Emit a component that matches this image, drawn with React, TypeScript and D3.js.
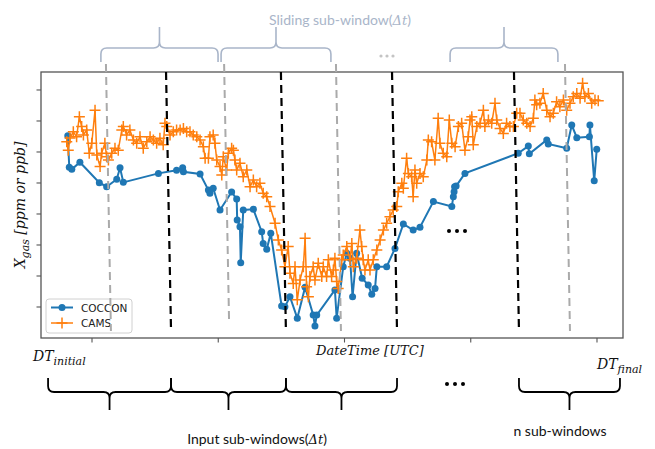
import React from "react";
import * as d3 from "d3";

// Axis ticks (time in hours, gas in arbitrary units); no tick labels are drawn
const xTicks = [0, 5, 10, 15, 20];
const yTicks = [0, 1, 2, 3, 4, 5, 6, 7];

// COCCON retrievals
const cocconTime = [
  -0.96, -0.9, -0.8, -0.48, 0.29, 0.58, 0.98, 1.11, 1.24, 2.63, 3.35, 3.59, 3.62, 4.28, 4.61, 4.67,
  4.8, 5.07, 5.53, 5.73, 5.75, 5.86, 5.89, 5.99, 6.39, 6.72, 6.78, 6.92, 7.08, 7.51, 7.64, 7.84,
  8.13, 8.44, 8.76, 8.83, 8.9, 9.62, 9.69, 9.95, 10.09, 10.22, 10.32, 10.48, 10.7, 10.94, 11.08,
  11.21, 11.28, 11.67, 12.0, 12.33, 12.72, 12.99, 13.52, 14.25, 14.31, 14.34, 14.36, 14.42, 14.77,
  16.88, 17.28, 17.32, 18.01, 18.07, 18.8, 19.0, 19.2, 19.7, 19.72, 19.89, 19.99,
];
const cocconValue = [
  5.52, 4.51, 4.44, 4.67, 4.01, 3.88, 4.12, 4.49, 4.02, 4.31, 4.41, 4.49, 4.36, 4.29, 3.77, 3.67,
  3.83, 3.13, 3.71, 3.48, 2.81, 2.59, 1.43, 3.13, 3.15, 2.43, 2.05, 1.86, 2.38, 0.03, 0.01, 0.33,
  -0.36, 0.64, -0.26, -0.61, -0.26, 0.55, -0.36, 1.3, 1.73, 1.57, 0.33, 1.73, 0.93, 0.71, 0.41,
  0.6, 1.3, 1.3, 1.89, 2.68, 2.48, 2.57, 3.4, 3.24, 3.56, 3.72, 3.88, 3.9, 4.31,
  4.96, 5.19, 4.94, 5.39, 5.26, 5.12, 5.87, 5.46, 5.49, 5.87, 4.07, 5.09,
];

// CAMS model values
const camsTime = [
  -1.0, -0.94, -0.87, -0.74, -0.61, -0.5, -0.41, -0.34, -0.21, -0.11, -0.01, 0.12, 0.19, 0.32, 0.38,
  0.51, 0.58, 0.65, 0.78, 0.91, 1.04, 1.18, 1.24, 1.37, 1.5, 1.64, 1.77, 1.9, 2.03, 2.17, 2.3, 2.43,
  2.56, 2.69, 2.82, 2.89, 2.96, 3.09, 3.22, 3.35, 3.49, 3.62, 3.75, 3.88, 4.01, 4.15, 4.28, 4.41,
  4.48, 4.61, 4.67, 4.8, 4.87, 4.94, 5.07, 5.14, 5.2, 5.33, 5.4, 5.53, 5.6, 5.66, 5.73, 5.86, 5.99,
  6.13, 6.26, 6.39, 6.52, 6.65, 6.78, 6.92, 7.05, 7.25, 7.38, 7.51, 7.64, 7.77, 7.84, 7.97, 8.04,
  8.13, 8.24, 8.37, 8.44, 8.5, 8.57, 8.63, 8.76, 8.83, 8.96, 9.1, 9.16, 9.29, 9.36, 9.49, 9.56,
  9.62, 9.69, 9.75, 9.89, 9.95, 10.09, 10.22, 10.29, 10.35, 10.48, 10.61, 10.68, 10.74, 10.81,
  10.94, 11.01, 11.14, 11.28, 11.41, 11.54, 11.67, 11.8, 11.93, 12.07, 12.13, 12.27, 12.33, 12.46,
  12.53, 12.66, 12.72, 12.79, 12.86, 12.99, 13.12, 13.26, 13.32, 13.45, 13.58, 13.71, 13.78, 13.91,
  14.05, 14.15, 14.25, 14.38, 14.51, 14.64, 14.77, 14.9, 14.97, 15.04, 15.1, 15.24, 15.37, 15.5,
  15.56, 15.7, 15.83, 15.96, 16.03, 16.16, 16.29, 16.42, 16.55, 16.69, 16.82, 16.95, 17.08, 17.22,
  17.35, 17.48, 17.54, 17.61, 17.74, 17.87, 18.01, 18.14, 18.27, 18.4, 18.53, 18.67, 18.8, 18.93,
  19.06, 19.2, 19.33, 19.43, 19.52, 19.66, 19.79, 19.92, 20.05,
];
const camsValue = [
  5.33, 5.06, 5.45, 5.65, 5.49, 6.14, 5.82, 5.55, 5.71, 4.96, 5.28, 6.35, 4.9, 4.53, 4.96,
  5.28, 4.85, 4.74, 4.96, 5.12, 5.06, 5.71, 5.82, 5.55, 5.71, 5.39, 5.28, 5.49, 5.12, 5.33, 5.49, 5.39,
  5.28, 5.44, 5.23, 5.93, 5.82, 5.55, 5.65, 5.71, 5.71, 5.76, 5.65, 5.65, 5.55, 5.49, 5.39, 5.17,
  4.8, 4.8, 5.49, 5.55, 5.28, 4.74, 4.53, 4.26, 4.85, 4.42, 4.96, 5.12, 5.06, 4.74, 4.42, 4.64, 4.2,
  4.42, 3.88, 4.1, 3.88, 3.99, 3.67, 3.56, 3.24, 2.7, 2.16, 1.84, 1.3, 1.95, 1.09, 0.76, 1.3,
  0.23, 0.87, 1.3, 2.22, 0.65, 0.33, 0.98, 1.3, 0.87, 1.41, 0.98, 1.3, 0.98, 1.52, 0.98, 1.19,
  1.57, 0.82, 0.6, 1.52, 1.68, 1.95, 1.52, 2.05, 1.3, 1.57, 2.48, 1.95, 1.52, 1.19,
  1.52, 1.19, 1.52, 1.84, 2.16, 2.48, 2.7, 2.91, 3.13, 3.24, 3.72, 3.99, 3.83, 4.8,
  4.31, 4.2, 3.56, 4.42, 3.99, 4.31, 4.2, 4.74, 5.39, 5.33, 4.74, 6.09, 5.28, 4.96,
  4.85, 6.03, 5.28, 5.17, 5.82, 5.93, 5.06, 5.49, 6.03, 6.14, 5.23, 5.82, 5.93, 6.35,
  5.82, 6.03, 5.93, 6.57, 6.03, 5.76, 5.6, 5.93, 5.82, 5.82, 6.25, 6.25, 6.03, 5.93,
  5.82, 6.09, 6.68, 6.52, 6.57, 6.89, 6.35, 6.14, 6.25, 6.62, 6.46, 6.68, 6.35, 6.57,
  6.78, 6.89, 6.73, 7.22, 6.78, 6.89, 6.57, 6.68, 6.65,
];

// Window boundaries (time at the bottom of the axes)
const inputDividers = [3.13, 7.68, 12.08, 16.91];
const slidingDividers = [0.75, 5.43, 9.86, 18.93];
const inputWindows: [number, number][] = [
  [-1.74, 3.13],
  [3.13, 7.68],
  [7.68, 12.08],
  [16.91, 20.91],
];
const slidingWindows: [number, number][] = [
  [0.55, 5.19],
  [5.31, 9.66],
  [14.38, 18.65],
];

const W = 655;
const H = 449;
const M = { left: 41, right: 623, top: 72, bottom: 338 };
const BLUE = "#1f77b4";
const ORANGE = "#ff7f0e";
const AXIS = "#555";
const BRACE_BLUE = "#a9b5c9";

const x = d3.scaleLinear().domain([-2.02, 21.03]).range([M.left, M.right]);
const y = d3.scaleLinear().domain([-1, 7.58]).range([M.bottom, M.top]);

// Curly brace between x1 and x2; ends at yEnd, bar at yBar, tip at yTip
function bracePath(x1: number, x2: number, yEnd: number, yBar: number, yTip: number) {
  const r = 6;
  const s = yTip < yBar ? -1 : 1; // tip direction
  const xm = (x1 + x2) / 2;
  const p = d3.path();
  p.moveTo(x1, yEnd);
  p.lineTo(x1, yBar - s * r);
  p.quadraticCurveTo(x1, yBar, x1 + r, yBar);
  p.lineTo(xm - r, yBar);
  p.quadraticCurveTo(xm, yBar, xm, yBar + s * r);
  p.lineTo(xm, yTip);
  p.moveTo(xm, yBar + s * r);
  p.quadraticCurveTo(xm, yBar, xm + r, yBar);
  p.lineTo(x2 - r, yBar);
  p.quadraticCurveTo(x2, yBar, x2, yBar - s * r);
  p.lineTo(x2, yEnd);
  return p.toString();
}

export default function App() {
  const coccon = cocconTime.map((t, i) => [t, cocconValue[i]] as [number, number]);
  const cams = camsTime.map((t, i) => [t, camsValue[i]] as [number, number]);
  const line = d3
    .line<[number, number]>()
    .x((d) => x(d[0]))
    .y((d) => y(d[1]));
  const lean = 5;
  const sans = "Lato, 'Open Sans', sans-serif";
  const math = "'DejaVu Serif', serif";

  return (
    <svg
      width={W}
      height={H}
      style={{ position: "absolute", left: 0, top: 0, background: "#fff" }}
      fontFamily="'DejaVu Sans', sans-serif"
    >
      <rect width={W} height={H} fill="#fff" />

      {/* series */}
      <path d={line(coccon) ?? ""} fill="none" stroke={BLUE} strokeWidth={2} />
      {coccon.map((d, i) => (
        <circle key={`c${i}`} cx={x(d[0])} cy={y(d[1])} r={3.5} fill={BLUE} />
      ))}
      <path d={line(cams) ?? ""} fill="none" stroke={ORANGE} strokeWidth={1.5} />
      {cams.map((d, i) => (
        <path
          key={`m${i}`}
          transform={`translate(${x(d[0])},${y(d[1])})`}
          d="M-5.5,0H5.5M0,-5.5V5.5"
          stroke={ORANGE}
          strokeWidth={1.5}
        />
      ))}

      {/* frame and ticks */}
      <rect
        x={M.left}
        y={M.top}
        width={M.right - M.left}
        height={M.bottom - M.top}
        fill="none"
        stroke={AXIS}
        strokeWidth={1.3}
      />
      {xTicks.map((t) => (
        <line key={`xt${t}`} x1={x(t)} x2={x(t)} y1={M.bottom} y2={M.bottom + 4.5} stroke={AXIS} strokeWidth={1.1} />
      ))}
      {yTicks.map((t) => (
        <line key={`yt${t}`} x1={M.left - 4.5} x2={M.left} y1={y(t)} y2={y(t)} stroke={AXIS} strokeWidth={1.1} />
      ))}

      {/* legend */}
      <g>
        <rect x={46} y={299} width={86} height={34} rx={3} fill="#fff" fillOpacity={0.85} stroke="#d0d0d0" />
        <line x1={51} x2={73} y1={307.5} y2={307.5} stroke={BLUE} strokeWidth={2} />
        <circle cx={62} cy={307.5} r={3.5} fill={BLUE} />
        <text x={81} y={311.5} fontSize={10.5} fill="#222">COCCON</text>
        <line x1={51} x2={73} y1={323} y2={323} stroke={ORANGE} strokeWidth={1.5} />
        <path d="M62,317.5V328.5M56.5,323H67.5" stroke={ORANGE} strokeWidth={1.5} />
        <text x={81} y={327} fontSize={10.5} fill="#222">CAMS</text>
      </g>

      {/* window dividers */}
      {slidingDividers.map((t, i) => (
        <line
          key={`g${i}`}
          x1={x(t) - lean}
          y1={64}
          x2={x(t)}
          y2={i === 1 ? 323 : 331}
          stroke="#aaaaaa"
          strokeWidth={2}
          strokeDasharray="8,5"
        />
      ))}
      {inputDividers.map((t, i) => (
        <line
          key={`b${i}`}
          x1={x(t) - lean}
          y1={M.top}
          x2={x(t)}
          y2={331}
          stroke="#000"
          strokeWidth={2.2}
          strokeDasharray="8,5"
        />
      ))}

      {/* sliding windows on top */}
      {slidingWindows.map(([a, b], i) => (
        <path
          key={`sb${i}`}
          d={bracePath(x(a) - lean, x(b) - lean, 62, 48, 27)}
          fill="none"
          stroke={BRACE_BLUE}
          strokeWidth={1.6}
        />
      ))}
      <text x={340} y={25} textAnchor="middle" fontFamily={sans} fontSize={14} fill={BRACE_BLUE}>
        Sliding sub-window(
        <tspan fontFamily={math} fontStyle="italic" fontSize={13}>Δt</tspan>)
      </text>
      {[-6, 0, 6].map((dx) => (
        <circle key={`td${dx}`} cx={387 + dx} cy={56} r={1.6} fill="#c4c4c4" />
      ))}

      {/* dots inside the axes */}
      {[-8, 0, 8].map((dx) => (
        <circle key={`pd${dx}`} cx={457 + dx} cy={231} r={2} fill="#000" />
      ))}

      {/* axis labels */}
      <text x={316} y={355} fontFamily={math} fontStyle="italic" fontSize={13} fill="#111">
        DateTime [UTC]
      </text>
      <text x={33} y={361} fontFamily={math} fontStyle="italic" fontSize={14} fill="#111">
        DT<tspan fontSize={11} dy={4}>initial</tspan>
      </text>
      <text x={597} y={369} fontFamily={math} fontStyle="italic" fontSize={14} fill="#111">
        DT<tspan fontSize={11} dy={4}>final</tspan>
      </text>
      <text
        transform="translate(25,205) rotate(-90)"
        textAnchor="middle"
        fontFamily={math}
        fontStyle="italic"
        fontSize={14}
        fill="#111"
      >
        X<tspan fontSize={11} dy={4}>gas</tspan>
        <tspan dy={-4}> [ppm or ppb]</tspan>
      </text>

      {/* input windows below */}
      {inputWindows.map(([a, b], i) => (
        <path
          key={`ib${i}`}
          d={bracePath(x(a), x(b), 378, 392, 410)}
          fill="none"
          stroke="#000"
          strokeWidth={1.8}
        />
      ))}
      {[-8, 0, 8].map((dx) => (
        <circle key={`bd${dx}`} cx={455 + dx} cy={384} r={2} fill="#000" />
      ))}
      <text x={257} y={444} textAnchor="middle" fontFamily={sans} fontSize={14} fill="#111">
        Input sub-windows(
        <tspan fontFamily={math} fontStyle="italic" fontSize={13}>Δt</tspan>)
      </text>
      <text x={560} y={436} textAnchor="middle" fontFamily={sans} fontSize={14} fill="#111">
        n sub-windows
      </text>
    </svg>
  );
}
